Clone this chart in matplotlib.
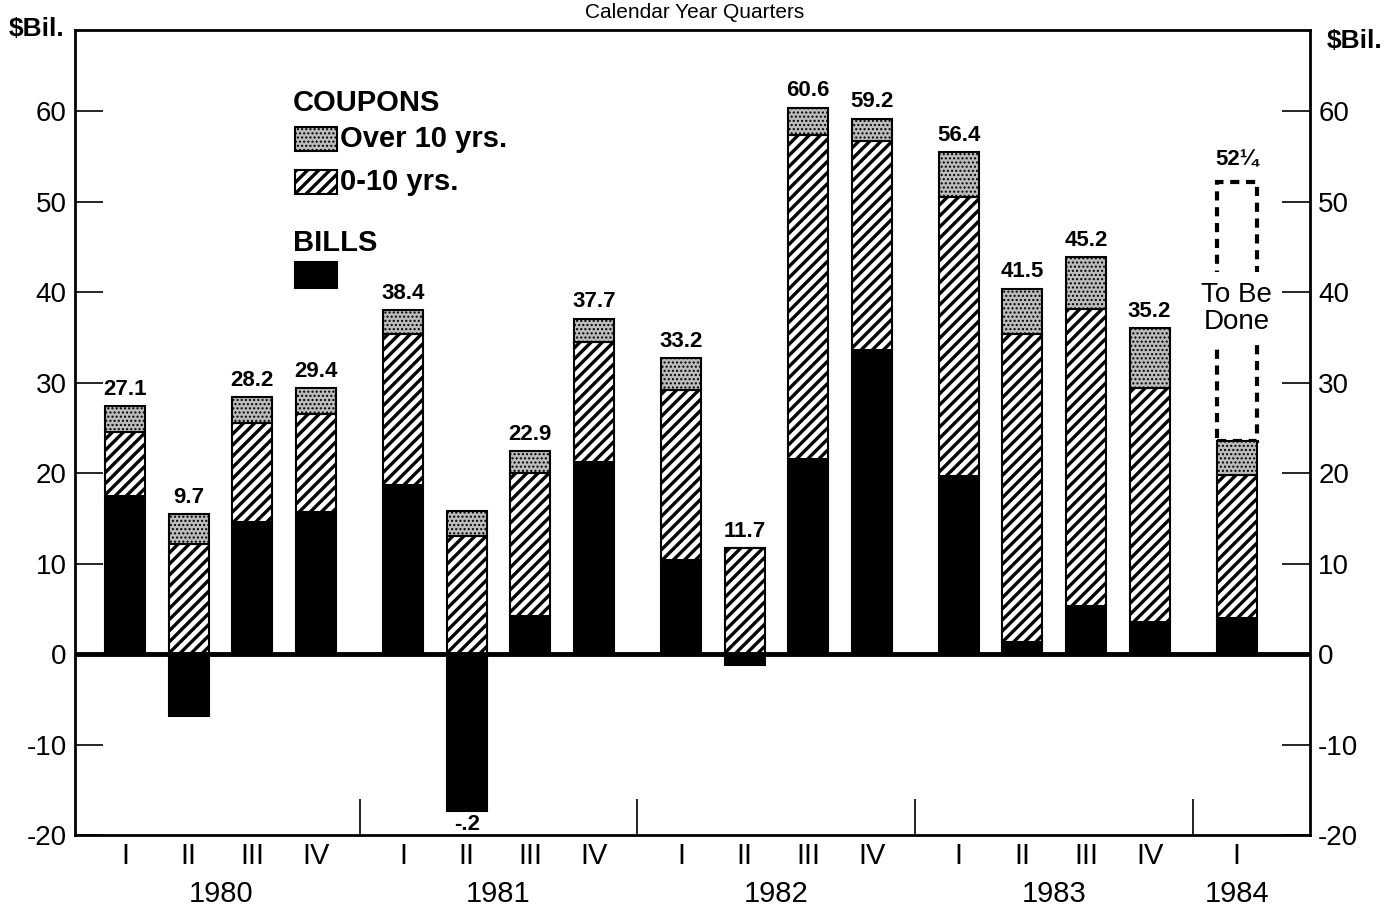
import numpy as np
import matplotlib
matplotlib.use('Agg')
import matplotlib.pyplot as plt
from matplotlib.patches import Rectangle

plt.rcParams['font.family'] = ['Liberation Sans', 'DejaVu Sans']
plt.rcParams['axes.unicode_minus'] = False
plt.rcParams['hatch.linewidth'] = 2.4

quarters = ['I', 'II', 'III', 'IV'] * 4 + ['I']
years = ['1980', '1981', '1982', '1983', '1984']
bills = [17.5, -6.9, 14.6, 15.7, 18.7, -17.3, 4.2, 21.2, 10.4, -1.2, 21.6, 33.6, 19.7, 1.3, 5.3, 3.6, 4.0]
short = [7.1, 12.2, 10.9, 10.9, 16.7, 13.1, 15.8, 13.3, 18.8, 11.7, 35.8, 23.1, 30.8, 34.1, 32.9, 25.8, 15.8]
long = [2.8, 3.3, 2.9, 2.8, 2.6, 2.7, 2.4, 2.6, 3.5, 0.0, 3.0, 2.5, 5.0, 5.0, 5.7, 6.6, 3.8]
totals = ['27.1', '9.7', '28.2', '29.4', '38.4', '-.2', '22.9', '37.7', '33.2', '11.7',
          '60.6', '59.2', '56.4', '41.5', '45.2', '35.2', '52\u00bc']
planned_1984 = 52.25

bills = np.array(bills)
short = np.array(short)
long = np.array(long)
n = len(bills)
year_idx = np.arange(n) // 4
x = np.arange(n) + 0.37 * year_idx
w = 0.63
stipple = '#bcbcbc'

fig = plt.figure(figsize=(13.89, 9.21), dpi=100)
ax = fig.add_axes([0.054, 0.0934, 0.889, 0.874])

short_base = np.maximum(bills, 0)
long_base = short_base + short


def thin_hatch(patches, lw):
    for p in patches:
        if hasattr(p, 'set_hatch_linewidth'):
            p.set_hatch_linewidth(lw)


ax.bar(x, bills, w, color='black', edgecolor='black', lw=1.5, zorder=3)
ax.bar(x, short, w, bottom=short_base, color='white', edgecolor='black',
       hatch='///', lw=1.5, zorder=3)
lb = ax.bar(x, long, w, bottom=long_base, color=stipple, edgecolor='black',
            hatch='....', lw=1.5, zorder=3)
thin_hatch(lb, 1.0)

# planned remainder for 1984
top84 = long_base[-1] + long[-1]
ax.add_patch(Rectangle((x[-1] - w / 2, top84), w, planned_1984 - top84, fill=False,
                       ls=(0, (2.2, 1.6)), lw=3, edgecolor='black', zorder=2))
ax.text(x[-1], 38.2, 'To Be\nDone', ha='center', va='center', fontsize=20,
        linespacing=1.05, zorder=4, bbox=dict(facecolor='white', edgecolor='none', pad=7))

for i in range(n):
    if i == n - 1:
        ax.text(x[i], planned_1984 + 1.2, totals[i], ha='center', va='bottom',
                fontsize=16, fontweight='bold')
    elif totals[i].startswith('-'):
        ax.text(x[i], bills[i] - 0.4, totals[i], ha='center', va='top',
                fontsize=16, fontweight='bold')
    else:
        ax.text(x[i], long_base[i] + long[i] + 0.7, totals[i], ha='center', va='bottom',
                fontsize=16, fontweight='bold')

ax.axhline(0, color='black', lw=3.5, zorder=4)

ax.set_xlim(x[0] - 0.79, x[-1] + 1.15)
ax.set_ylim(-20, 69)
ax.set_yticks(np.arange(-20, 61, 10))
ax.tick_params(axis='y', direction='in', length=20, width=1.2, labelsize=20,
               left=True, right=True, labelleft=True, labelright=True, pad=6)
for s in ax.spines.values():
    s.set_linewidth(2)

# year separators as inward ticks
seps = [(x[4 * k + 3] + x[4 * k + 4]) / 2 for k in range(4)]
ax.set_xticks(seps)
ax.tick_params(axis='x', direction='in', length=26, width=1.2, labelbottom=False)

for i in range(n):
    ax.text(x[i], -22.3, quarters[i], ha='center', va='center', fontsize=21,
            clip_on=False)
for k, yr in enumerate(years):
    idx = np.where(year_idx == k)[0]
    xc = x[idx].mean()
    ax.text(xc, -26.5, yr, ha='center', va='center', fontsize=21, clip_on=False)

# legend drawn by hand
ax.text(0.1765, 0.909, 'COUPONS', transform=ax.transAxes, fontsize=21,
        fontweight='bold', va='center')
r = Rectangle((0.178, 0.8497), 0.034, 0.0298, transform=ax.transAxes,
              facecolor=stipple, hatch='....', edgecolor='black', lw=1.5)
ax.add_patch(r)
thin_hatch([r], 1.0)
ax.text(0.2146, 0.8646, 'Over 10 yrs.', transform=ax.transAxes, fontsize=21,
        fontweight='bold', va='center')
ax.add_patch(Rectangle((0.178, 0.796), 0.034, 0.030, transform=ax.transAxes,
                       facecolor='white', hatch='///', edgecolor='black', lw=1.5))
ax.text(0.2146, 0.811, '0-10 yrs.', transform=ax.transAxes, fontsize=21,
        fontweight='bold', va='center')
ax.text(0.1765, 0.735, 'BILLS', transform=ax.transAxes, fontsize=21,
        fontweight='bold', va='center')
ax.add_patch(Rectangle((0.178, 0.680), 0.034, 0.032, transform=ax.transAxes,
                       facecolor='black', edgecolor='black', lw=1.5))

fig.text(0.026, 0.969, '$Bil.', fontsize=19, fontweight='bold', ha='center', va='center')
fig.text(0.975, 0.956, '$Bil.', fontsize=19, fontweight='bold', ha='center', va='center')
fig.text(0.5, 0.986, 'Calendar Year Quarters', fontsize=15, ha='center', va='center')

fig.savefig('out.png', dpi=100)
